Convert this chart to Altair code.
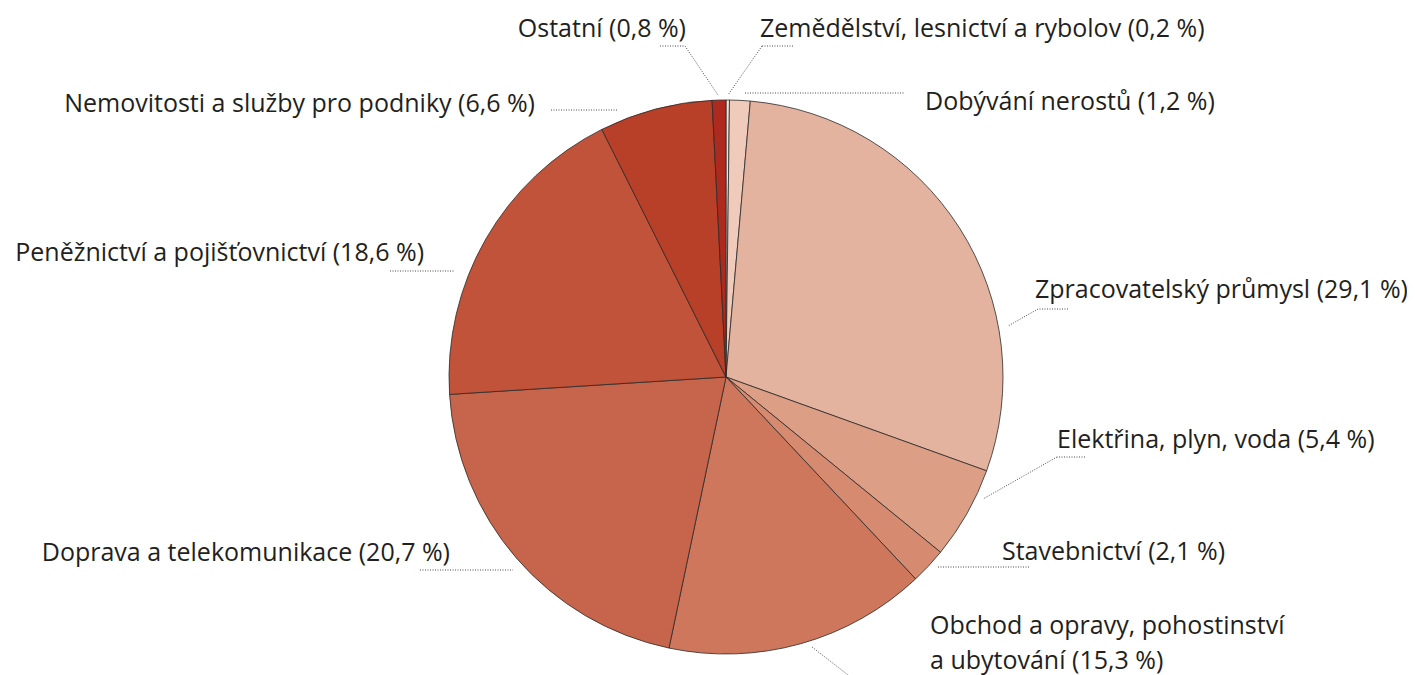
import altair as alt
import pandas as pd

# ---- data ----
categories = [
    "Zemědělství, lesnictví a rybolov",
    "Dobývání nerostů",
    "Zpracovatelský průmysl",
    "Elektřina, plyn, voda",
    "Stavebnictví",
    "Obchod a opravy, pohostinství a ubytování",
    "Doprava a telekomunikace",
    "Peněžnictví a pojišťovnictví",
    "Nemovitosti a služby pro podniky",
    "Ostatní",
]
shares = [0.2, 1.2, 29.1, 5.4, 2.1, 15.3, 20.7, 18.6, 6.6, 0.8]
colors = ["#f8e3d9", "#f0cbbb", "#e3b39f", "#dd9e86", "#d68a70",
          "#cf775c", "#c6654b", "#c0533a", "#b83f28", "#ae2a1e"]

# label texts (one row per line of text)
label_lines = [
    "Ostatní (0,8 %)",
    "Zemědělství, lesnictví a rybolov (0,2 %)",
    "Dobývání nerostů (1,2 %)",
    "Nemovitosti a služby pro podniky (6,6 %)",
    "Peněžnictví a pojišťovnictví (18,6 %)",
    "Zpracovatelský průmysl (29,1 %)",
    "Elektřina, plyn, voda (5,4 %)",
    "Stavebnictví (2,1 %)",
    "Obchod a opravy, pohostinství",
    "a ubytování (15,3 %)",
    "Doprava a telekomunikace (20,7 %)",
]

# ---- layout (page pixel coordinates) ----
W, H = 1399, 667
OFF = 8
CX, CY, R = 726, 377, 277
label_x = [686, 760, 925, 535, 424, 1035, 1057, 1002, 930, 930, 450]
label_y = [37, 37, 110, 112, 261, 298, 448, 560, 634, 669, 561]
label_align = ["right", "left", "left", "right", "right", "left", "left",
               "left", "left", "left", "right"]
leader_segments = [
    (660, 46, 685, 46), (685, 46, 718, 95),
    (793, 46, 762, 46), (762, 46, 728, 95),
    (745, 93, 905, 93),
    (551, 110, 618, 110),
    (390, 271, 454, 271),
    (1068, 309, 1038, 309), (1038, 309, 1008, 326),
    (1085, 457, 1057, 457), (1057, 457, 983, 499),
    (938, 567, 1030, 567),
    (812, 647, 852, 678),
    (420, 570, 513, 570),
]

pie_df = pd.DataFrame({"cat": categories, "value": shares,
                       "idx": list(range(len(categories)))})
lab_df = pd.DataFrame({"text": label_lines, "x": label_x, "y": label_y,
                       "align": label_align})
lead_df = pd.DataFrame(leader_segments, columns=["x", "y", "x2", "y2"])

xs = alt.Scale(domain=[OFF, OFF + W], range=[0, W], nice=False, zero=False)
ys = alt.Scale(domain=[OFF, OFF + H], range=[0, H], nice=False, zero=False)

pie = alt.Chart(pie_df).mark_arc(
    outerRadius=R, stroke="#2a2a2a", strokeWidth=0.8
).encode(
    theta=alt.Theta("value:Q", stack=True),
    order=alt.Order("idx:Q"),
    color=alt.Color("cat:N", scale=alt.Scale(domain=categories, range=colors),
                    legend=None),
    x=alt.value(CX - OFF),
    y=alt.value(CY - OFF),
)

leaders = alt.Chart(lead_df).mark_rule(
    color="#4a4a4a", strokeWidth=1, strokeDash=[1, 1.5]
).encode(
    x=alt.X("x:Q", scale=xs, axis=None),
    y=alt.Y("y:Q", scale=ys, axis=None),
    x2="x2:Q",
    y2="y2:Q",
)

font = dict(font="Open Sans", fontSize=25, color="#231f20", baseline="alphabetic")
text_l = alt.Chart(lab_df).transform_filter(alt.datum.align == "left").mark_text(
    align="left", **font
).encode(
    x=alt.X("x:Q", scale=xs, axis=None),
    y=alt.Y("y:Q", scale=ys, axis=None),
    text="text:N",
)
text_r = alt.Chart(lab_df).transform_filter(alt.datum.align == "right").mark_text(
    align="right", **font
).encode(
    x=alt.X("x:Q", scale=xs, axis=None),
    y=alt.Y("y:Q", scale=ys, axis=None),
    text="text:N",
)

chart = alt.layer(leaders, pie, text_l, text_r).properties(
    width=W, height=H, padding=0,
    autosize=alt.AutoSizeParams(type="none"),
).configure_view(stroke=None)

chart.save("out.html", embed_options={"renderer": "svg", "actions": False})
